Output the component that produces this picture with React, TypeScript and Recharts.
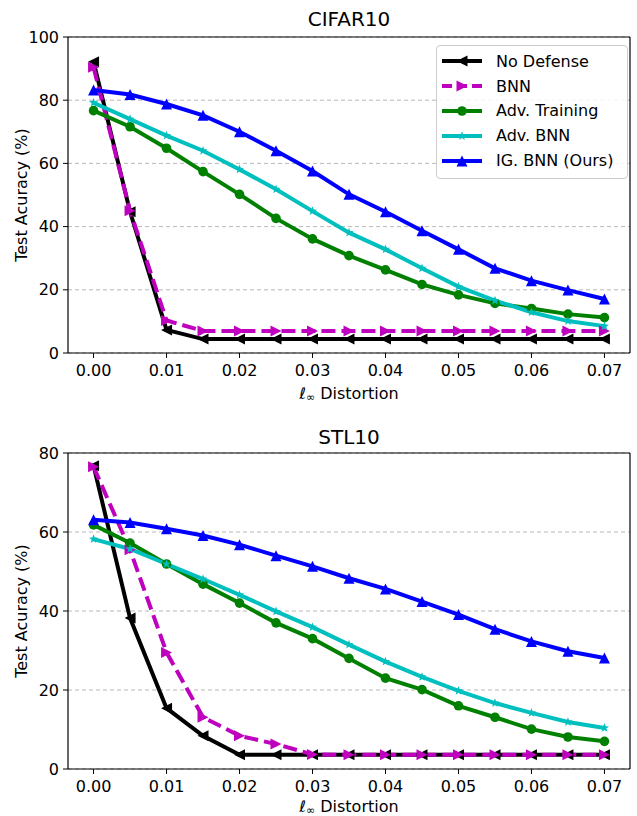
import React from "react"
import { LineChart, Line, XAxis, YAxis, CartesianGrid, Legend, ReferenceLine } from "recharts"

const distortions = [0, 0.005, 0.01, 0.015, 0.02, 0.025, 0.03, 0.035, 0.04, 0.045, 0.05, 0.055, 0.06, 0.065, 0.07]
const xTicks = [0, 0.01, 0.02, 0.03, 0.04, 0.05, 0.06, 0.07]

const cifarNoDefense = [92.2, 44.7, 7.3, 4.4, 4.4, 4.4, 4.4, 4.4, 4.4, 4.4, 4.4, 4.4, 4.4, 4.4, 4.4]
const cifarBNN = [90.4, 45, 10.3, 7, 7, 7, 7, 7, 7, 7, 7, 7, 7, 7, 7]
const cifarAdvTraining = [76.7, 71.6, 64.8, 57.4, 50.2, 42.6, 36.1, 30.8, 26.3, 21.7, 18.4, 15.7, 14.1, 12.3, 11.2]
const cifarAdvBNN = [79.2, 74, 68.8, 64, 58.1, 51.8, 44.9, 38.1, 32.8, 26.8, 21, 16.6, 12.9, 10.1, 8.5]
const cifarIGBNN = [83.2, 81.8, 78.8, 75.2, 70, 64, 57.6, 50.2, 44.7, 38.7, 32.8, 26.8, 22.9, 19.9, 17.1]
const cifarYTicks = [0, 20, 40, 60, 80, 100]

const stlNoDefense = [76.8, 38.2, 15.4, 8.4, 3.6, 3.6, 3.6, 3.6, 3.6, 3.6, 3.6, 3.6, 3.6, 3.6, 3.6]
const stlBNN = [76.5, 55.5, 29.5, 13.1, 8.4, 6.3, 3.7, 3.6, 3.6, 3.6, 3.6, 3.6, 3.6, 3.6, 3.6]
const stlAdvTraining = [61.8, 57.2, 51.9, 46.8, 42, 37, 33, 28, 23, 20.1, 16, 13.1, 10.1, 8.1, 7]
const stlAdvBNN = [58.2, 55.7, 51.9, 48.1, 44.1, 39.9, 35.9, 31.5, 27.2, 23.3, 19.8, 16.7, 14.2, 11.9, 10.4]
const stlIGBNN = [63.1, 62.4, 60.8, 59.1, 56.8, 54, 51.3, 48.3, 45.6, 42.4, 39.1, 35.4, 32.3, 29.8, 28.1]
const stlYTicks = [0, 20, 40, 60, 80]

const FONT = "'DejaVu Sans', sans-serif"
const X_MIN = -0.0035
const X_MAX = 0.0735

type Marker = "left" | "right" | "circle" | "star" | "up"

const series: { key: string; name: string; color: string; marker: Marker; dash?: string }[] = [
  { key: "noDefense", name: "No Defense", color: "#000000", marker: "left" },
  { key: "bnn", name: "BNN", color: "#bf00bf", marker: "right", dash: "14 6" },
  { key: "advTraining", name: "Adv. Training", color: "#008000", marker: "circle" },
  { key: "advBNN", name: "Adv. BNN", color: "#00bfbf", marker: "star" },
  { key: "igBNN", name: "IG. BNN (Ours)", color: "#0000ff", marker: "up" },
]

function markerShape(kind: Marker, cx: number, cy: number, color: string, key?: any) {
  const r = 5.5
  if (kind === "circle") return <circle key={key} cx={cx} cy={cy} r={4.8} fill={color} />
  if (kind === "left")
    return <polygon key={key} points={`${cx - r},${cy} ${cx + r},${cy - r} ${cx + r},${cy + r}`} fill={color} />
  if (kind === "right")
    return <polygon key={key} points={`${cx + r},${cy} ${cx - r},${cy - r} ${cx - r},${cy + r}`} fill={color} />
  if (kind === "up")
    return <polygon key={key} points={`${cx},${cy - r} ${cx - r},${cy + r} ${cx + r},${cy + r}`} fill={color} />
  // star
  const pts: string[] = []
  for (let i = 0; i < 10; i++) {
    const rad = i % 2 === 0 ? 4.8 : 2
    const a = -Math.PI / 2 + (i * Math.PI) / 5
    pts.push(`${cx + rad * Math.cos(a)},${cy + rad * Math.sin(a)}`)
  }
  return <polygon key={key} points={pts.join(" ")} fill={color} />
}

function buildRows(vals: number[][]) {
  return distortions.map((d, i) => ({
    x: d,
    noDefense: vals[0][i],
    bnn: vals[1][i],
    advTraining: vals[2][i],
    advBNN: vals[3][i],
    igBNN: vals[4][i],
  }))
}

const cifarRows = buildRows([cifarNoDefense, cifarBNN, cifarAdvTraining, cifarAdvBNN, cifarIGBNN])
const stlRows = buildRows([stlNoDefense, stlBNN, stlAdvTraining, stlAdvBNN, stlIGBNN])

function LegendBox() {
  return (
    <div
      style={{
        border: "1px solid #cccccc",
        borderRadius: 4,
        background: "rgba(255,255,255,0.85)",
        padding: "3px 0 5px 0",
        fontFamily: FONT,
        fontSize: 16,
      }}
    >
      {series.map((s) => (
        <div key={s.key} style={{ display: "flex", alignItems: "center", height: 24.8 }}>
          <svg width={56} height={20} style={{ marginLeft: 3 }}>
            <line x1={2} x2={42} y1={10} y2={10} stroke={s.color} strokeWidth={4} strokeDasharray={s.dash ? "10 5" : undefined} />
            {markerShape(s.marker, 22, 10, s.color)}
          </svg>
          <span style={{ color: "#000" }}>{s.name}</span>
        </div>
      ))}
    </div>
  )
}

function Panel({
  rows,
  yTicks,
  yMax,
  height,
  xAxisHeight,
  labelDrop,
  showLegend,
}: {
  rows: any[]
  yTicks: number[]
  yMax: number
  height: number
  xAxisHeight: number
  labelDrop: number
  showLegend: boolean
}) {
  const tickStyle = { fontFamily: FONT, fontSize: 16, fill: "#000" }
  return (
    <LineChart width={637} height={height} data={rows} margin={{ top: 37, right: 7, left: 0, bottom: 0 }}>
      <CartesianGrid vertical={false} stroke="#b0b0b0" strokeDasharray="4 3" strokeWidth={0.9} />
      <XAxis
        dataKey="x"
        type="number"
        domain={[X_MIN, X_MAX]}
        ticks={xTicks}
        allowDataOverflow
        tickFormatter={(v: number) => v.toFixed(2)}
        tick={tickStyle}
        tickSize={5}
        tickMargin={7}
        tickLine={{ stroke: "#000" }}
        axisLine={{ stroke: "#000", strokeWidth: 1.2 }}
        height={xAxisHeight}
        label={(p: any) => {
          const vb = p.viewBox
          const cx = vb.x + vb.width / 2
          return (
            <text x={cx} y={vb.y + labelDrop} textAnchor="middle" style={{ fontFamily: FONT, fontSize: 16, fill: "#000" }}>
              <tspan fontStyle="italic">ℓ</tspan>
              <tspan fontSize={11} dy={2}>∞</tspan>
              <tspan dy={-2}> Distortion</tspan>
            </text>
          )
        }}
      />
      <YAxis
        domain={[0, yMax]}
        ticks={yTicks}
        tick={tickStyle}
        tickSize={5}
        tickMargin={4}
        tickLine={{ stroke: "#000" }}
        axisLine={{ stroke: "#000", strokeWidth: 1.2 }}
        width={68}
        allowDataOverflow
        label={(p: any) => {
          const vb = p.viewBox
          const cy = vb.y + vb.height / 2
          return (
            <text x={21} y={cy} transform={`rotate(-90, 21, ${cy})`} textAnchor="middle" dominantBaseline="central" style={{ fontFamily: FONT, fontSize: 16, fill: "#000" }}>
              Test Acuracy (%)
            </text>
          )
        }}
      />
      <ReferenceLine y={yMax} stroke="#000" strokeWidth={1.2} />
      <ReferenceLine x={X_MAX} stroke="#000" strokeWidth={1.2} />
      {showLegend && (
        <Legend
          layout="vertical"
          align="center"
          verticalAlign="middle"
          content={() => <LegendBox />}
          wrapperStyle={{ position: "absolute", left: 436, top: 45, width: 192 }}
        />
      )}
      {series.map((s) => (
        <Line
          key={s.key}
          dataKey={s.key}
          name={s.name}
          stroke={s.color}
          strokeWidth={4}
          strokeDasharray={s.dash}
          isAnimationActive={false}
          dot={(p: any) => markerShape(s.marker, p.cx, p.cy, s.color, p.index)}
          activeDot={false}
          legendType="none"
        />
      ))}
    </LineChart>
  )
}

const titleStyle: React.CSSProperties = {
  position: "absolute",
  left: 68,
  width: 562,
  textAlign: "center",
  fontFamily: FONT,
  fontSize: 20,
  lineHeight: "24px",
  color: "#000",
}

export default function App() {
  return (
    <div style={{ position: "absolute", left: 0, top: 0, width: 637, height: 816, background: "#fff" }}>
      <div style={{ ...titleStyle, top: 7 }}>CIFAR10</div>
      <div style={{ position: "absolute", left: 0, top: 0 }}>
        <Panel rows={cifarRows} yTicks={cifarYTicks} yMax={100} height={408} xAxisHeight={55} labelDrop={46} showLegend />
      </div>
      <div style={{ ...titleStyle, top: 425 }}>STL10</div>
      <div style={{ position: "absolute", left: 0, top: 416 }}>
        <Panel rows={stlRows} yTicks={stlYTicks} yMax={80} height={400} xAxisHeight={47} labelDrop={43} showLegend={false} />
      </div>
    </div>
  )
}
